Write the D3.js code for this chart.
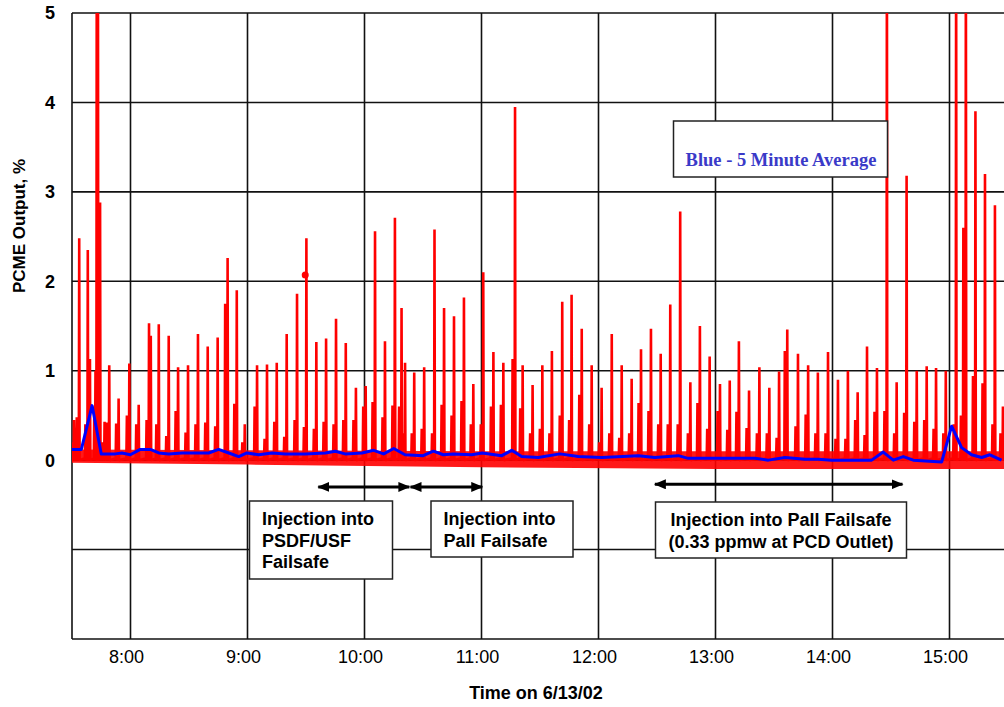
<!DOCTYPE html>
<html>
<head>
<meta charset="utf-8">
<script src="https://cdn.jsdelivr.net/npm/d3@7"></script>
<style>
  body { margin: 0; background: #fff; }
  svg { display: block; }
</style>
</head>
<body>
<div id="chart"></div>
<script>
// all times are minutes after 7:00 on 6/13/02
var tickTimes = [60, 120, 180, 240, 300, 360, 420, 480];
var tickLabels = ["8:00", "9:00", "10:00", "11:00", "12:00", "13:00", "14:00", "15:00"];
var yTickValues = [0, 1, 2, 3, 4, 5];
var yGridValues = [-2, -1, 0, 1, 2, 3, 4, 5];

// red trace: one entry per spike (values above 5 run off the top)
var pulseTimes = [31.0, 33.7, 38.1, 39.2, 42.7, 43.3, 44.4, 46.7, 49.1, 53.9, 59.4, 64.2, 69.5, 70.4, 74.5, 79.6,
  84.4, 89.5, 94.6, 99.6, 104.7, 109.8, 114.5, 118.6, 124.9, 130.0, 135.0, 140.1, 145.4, 150.2, 155.3, 160.3,
  165.4, 170.4, 175.6, 180.6, 185.4, 190.5, 195.6, 199.0, 200.8, 205.5, 210.6, 215.9, 220.8, 225.9, 231.0,
  235.8, 240.9, 246.1, 251.2, 257.2, 261.1, 266.2, 271.2, 276.1, 281.4, 286.2, 291.4, 296.5, 301.6, 306.8,
  311.9, 317.0, 321.8, 326.9, 331.9, 336.8, 341.9, 347.1, 352.0, 357.0, 362.3, 367.3, 372.0, 377.2, 382.5,
  387.6, 392.6, 396.8, 402.3, 407.5, 412.5, 417.7, 422.8, 427.9, 432.9, 437.7, 442.8, 447.9, 452.9, 458.0,
  463.2, 468.3, 473.1, 478.1, 483.4, 487.1, 488.4, 493.3, 498.2, 503.3, 507.4];
var pulsePeaks = [0.45, 2.48, 2.35, 1.13, 6, 6, 2.88, 0.43, 1.06, 0.69, 1.08, 0.62, 1.53, 1.39, 1.52, 1.39,
  1.04, 1.06, 1.41, 1.27, 1.37, 2.26, 1.90, 0.40, 1.06, 1.07, 1.09, 1.41, 1.86, 2.48, 1.32, 1.36,
  1.58, 1.31, 0.81, 0.83, 2.56, 1.33, 2.71, 1.70, 1.09, 0.98, 1.04, 2.58, 1.70, 1.61, 1.82,
  0.85, 2.10, 1.21, 1.09, 3.95, 1.06, 0.84, 1.06, 1.22, 1.77, 1.85, 1.47, 1.06, 0.81, 1.41,
  1.06, 0.91, 1.24, 1.47, 1.19, 1.74, 2.78, 0.87, 1.50, 1.16, 0.85, 0.89, 1.33, 0.78, 1.04,
  0.81, 0.99, 1.46, 1.19, 1.06, 0.98, 1.21, 0.90, 1.00, 0.76, 1.27, 1.03, 6, 0.87, 3.18,
  1.00, 1.05, 1.03, 1.00, 6, 2.60, 6, 3.90, 3.20, 2.85, 0.60];
var pulseShoulders = [0.20, 0.48, 0.40, 0.30, 0.60, 1.00, 0.60, 0.20, 0.42, 0.41, 0.50, 0.40, 0.45, 0.30, 0.40, 0.27,
  0.55, 0.31, 0.40, 0.42, 0.38, 1.75, 0.63, 0.20, 0.60, 0.24, 0.43, 0.26, 0.45, 0.37, 0.35, 0.43,
  0.40, 0.45, 0.45, 0.60, 0.65, 0.48, 0.61, 0.60, 0.30, 0.30, 0.35, 0.30, 0.62, 0.50, 0.66,
  0.40, 0.40, 0.60, 0.62, 1.13, 0.58, 0.30, 0.35, 0.30, 0.50, 0.45, 0.73, 0.40, 0.20, 0.30,
  0.25, 0.30, 0.64, 0.55, 0.40, 0.40, 0.40, 0.30, 0.64, 0.35, 0.55, 0.34, 0.54, 0.36, 0.30,
  0.30, 0.25, 1.22, 0.38, 0.51, 0.30, 0.30, 0.24, 0.24, 0.45, 0.28, 0.54, 0.55, 0.30, 0.53,
  0.43, 0.45, 0.35, 0.30, 0.40, 0.50, 0.90, 0.94, 0.86, 0.40, 0.30];

// dense low-level scatter of the red trace
var bandTimes = [30, 120, 240, 360, 510];
var bandLow = [-0.03, -0.05, -0.08, -0.10, -0.10];
var bandHigh = [0.12, 0.11, 0.10, 0.10, 0.10];

// blue 5-minute average
var avgTimes = [30.0, 34.8, 40.3, 45.0, 52.2, 55.6, 59.9, 65.0, 70.2, 74.5, 79.6, 86.4, 100.1, 105.2, 110.4,
  115.5, 119.7, 125.7, 132.6, 139.4, 149.6, 159.9, 165.0, 170.1, 178.7, 184.7, 189.8, 195.0, 200.8,
  210.1, 215.3, 220.4, 225.5, 235.0, 240.4, 250.4, 255.5, 260.6, 269.1, 280.2, 289.6, 301.6, 320.4,
  328.9, 340.9, 346.0, 364.9, 380.2, 387.1, 395.6, 405.9, 412.7, 419.6, 428.1, 440.1, 446.0, 451.2,
  456.3, 461.4, 476.0, 481.1, 486.2, 491.3, 496.5, 500.7, 506.7];
var avgValues = [0.12, 0.12, 0.61, 0.07, 0.07, 0.08, 0.06, 0.12, 0.12, 0.08, 0.07, 0.08, 0.08, 0.12, 0.08,
  0.04, 0.08, 0.06, 0.08, 0.07, 0.07, 0.08, 0.10, 0.07, 0.08, 0.11, 0.07, 0.13, 0.06,
  0.05, 0.10, 0.06, 0.07, 0.06, 0.08, 0.05, 0.11, 0.04, 0.03, 0.07, 0.04, 0.03, 0.05,
  0.03, 0.05, 0.02, 0.02, 0.02, 0.00, 0.03, 0.01, 0.01, 0.00, 0.00, 0.00, 0.09, 0.00,
  0.04, 0.00, -0.02, 0.38, 0.14, 0.06, 0.03, 0.06, 0.00];

var markTime = 149.6, markValue = 2.07;

// injection periods (double arrows)
var arrowStarts = [156.3, 203.6, 328.9];
var arrowEnds = [203.0, 240.4, 455.9];
var arrowLevels = [-0.3, -0.3, -0.27];

var margin = {top: 13, left: 72},
    width = 1004, height = 707,
    plotW = 936, plotH = 626;

var svg = d3.select("#chart").append("svg")
    .attr("width", width)
    .attr("height", height)
    .style("font-family", "Arial, 'Liberation Sans', sans-serif");

var x = d3.scaleLinear().domain([30, 510]).range([margin.left, margin.left + plotW]);
var y = d3.scaleLinear().domain([-2, 5]).range([margin.top + plotH, margin.top]);

svg.append("clipPath").attr("id", "plotClip")
  .append("rect")
    .attr("x", margin.left).attr("y", margin.top)
    .attr("width", plotW).attr("height", plotH);

// grid
var grid = svg.append("g");
grid.selectAll(".vg").data(tickTimes).enter().append("line")
    .attr("x1", function(d) { return x(d); }).attr("x2", function(d) { return x(d); })
    .attr("y1", margin.top).attr("y2", margin.top + plotH)
    .attr("stroke", "#111").attr("stroke-width", 1.6);
grid.selectAll(".hg").data(yGridValues).enter().append("line")
    .attr("x1", margin.left).attr("x2", margin.left + plotW)
    .attr("y1", function(d) { return y(d); }).attr("y2", function(d) { return y(d); })
    .attr("stroke", "#111").attr("stroke-width", 1.6);
grid.append("line")
    .attr("x1", margin.left).attr("x2", margin.left)
    .attr("y1", margin.top).attr("y2", margin.top + plotH)
    .attr("stroke", "#111").attr("stroke-width", 1.6);

// data
var plot = svg.append("g").attr("clip-path", "url(#plotClip)");

var band = bandTimes.map(function(t, i) { return {t: t, lo: bandLow[i], hi: bandHigh[i]}; });
plot.append("path")
    .datum(band)
    .attr("fill", "#ff0000")
    .attr("opacity", 0.9)
    .attr("d", d3.area()
        .x(function(d) { return x(d.t); })
        .y0(function(d) { return y(d.lo); })
        .y1(function(d) { return y(d.hi); }));

var redPts = [];
pulseTimes.forEach(function(t, i) {
    redPts.push([t - 1.5, 0.02]);
    redPts.push([t - 1.25, pulseShoulders[i]]);
    redPts.push([t - 1.0, 0.0]);
    redPts.push([t - 0.2, 0.03]);
    redPts.push([t, pulsePeaks[i]]);
    redPts.push([t + 0.2, 0.0]);
});

plot.append("path")
    .datum(redPts)
    .attr("fill", "none")
    .attr("stroke", "#ff0000")
    .attr("stroke-width", 2.6)
    .attr("stroke-linejoin", "bevel")
    .attr("d", d3.line()
        .x(function(d) { return x(d[0]); })
        .y(function(d) { return y(d[1]); }));

plot.append("circle")
    .attr("cx", x(markTime)).attr("cy", y(markValue))
    .attr("r", 3.5).attr("fill", "#ff0000");

var avg = avgTimes.map(function(t, i) { return [t, avgValues[i]]; });
plot.append("path")
    .datum(avg)
    .attr("fill", "none")
    .attr("stroke", "#0000ff")
    .attr("stroke-width", 3)
    .attr("stroke-linejoin", "round")
    .attr("d", d3.line()
        .x(function(d) { return x(d[0]); })
        .y(function(d) { return y(d[1]); }));

// axis labels
svg.append("g").selectAll("text").data(yTickValues).enter().append("text")
    .attr("x", 55)
    .attr("y", function(d) { return y(d); })
    .attr("dy", "0.36em")
    .attr("text-anchor", "end")
    .style("font-size", "18px")
    .style("font-weight", "bold")
    .text(function(d) { return d; });

svg.append("g").selectAll("text").data(tickTimes).enter().append("text")
    .attr("x", function(d) { return x(d) - 4; })
    .attr("y", 663)
    .attr("text-anchor", "middle")
    .style("font-size", "18px")
    .text(function(d, i) { return tickLabels[i]; });

svg.append("text")
    .attr("transform", "translate(25,226) rotate(-90)")
    .attr("text-anchor", "middle")
    .style("font-size", "17px")
    .style("font-weight", "bold")
    .text("PCME Output, %");

svg.append("text")
    .attr("x", 536).attr("y", 699)
    .attr("text-anchor", "middle")
    .style("font-size", "18px")
    .style("font-weight", "bold")
    .text("Time on 6/13/02");

// legend box
svg.append("rect")
    .attr("x", 673.5).attr("y", 121).attr("width", 214).attr("height", 56)
    .attr("fill", "#fff").attr("stroke", "#222").attr("stroke-width", 1.5);
svg.append("text")
    .attr("x", 781).attr("y", 166)
    .attr("text-anchor", "middle")
    .style("font-family", "'Liberation Serif', 'Times New Roman', serif")
    .style("font-size", "18.5px")
    .style("font-weight", "bold")
    .style("fill", "#3a3ac8")
    .text("Blue - 5 Minute Average");

// annotation boxes
var notes = [
  {x: 249.5, y: 501, w: 143, h: 78, anchor: "start", tx: 262, lines: ["Injection into", "PSDF/USF", "Failsafe"]},
  {x: 431, y: 501, w: 142, h: 56, anchor: "start", tx: 443.5, lines: ["Injection into", "Pall Failsafe"]},
  {x: 655.5, y: 502, w: 251, h: 56, anchor: "middle", tx: 781, lines: ["Injection into Pall Failsafe", "(0.33 ppmw at PCD Outlet)"]}
];
notes.forEach(function(n) {
    svg.append("rect")
        .attr("x", n.x).attr("y", n.y).attr("width", n.w).attr("height", n.h)
        .attr("fill", "#fff").attr("stroke", "#222").attr("stroke-width", 1.5);
    n.lines.forEach(function(l, i) {
        svg.append("text")
            .attr("x", n.tx).attr("y", n.y + 24 + i * 21.5)
            .attr("text-anchor", n.anchor)
            .style("font-size", "18px")
            .style("font-weight", "bold")
            .text(l);
    });
});

// arrows
var defs = svg.append("defs");
defs.append("marker").attr("id", "head")
    .attr("viewBox", "0 0 12 10").attr("refX", 11).attr("refY", 5)
    .attr("markerWidth", 12).attr("markerHeight", 10)
    .attr("markerUnits", "userSpaceOnUse")
    .attr("orient", "auto-start-reverse")
  .append("path").attr("d", "M0,0 L12,5 L0,10 Z").attr("fill", "#000");

arrowStarts.forEach(function(s, i) {
    svg.append("line")
        .attr("x1", x(s)).attr("x2", x(arrowEnds[i]))
        .attr("y1", y(arrowLevels[i])).attr("y2", y(arrowLevels[i]))
        .attr("stroke", "#000").attr("stroke-width", 3)
        .attr("marker-start", "url(#head)")
        .attr("marker-end", "url(#head)");
});
</script>
</body>
</html>
